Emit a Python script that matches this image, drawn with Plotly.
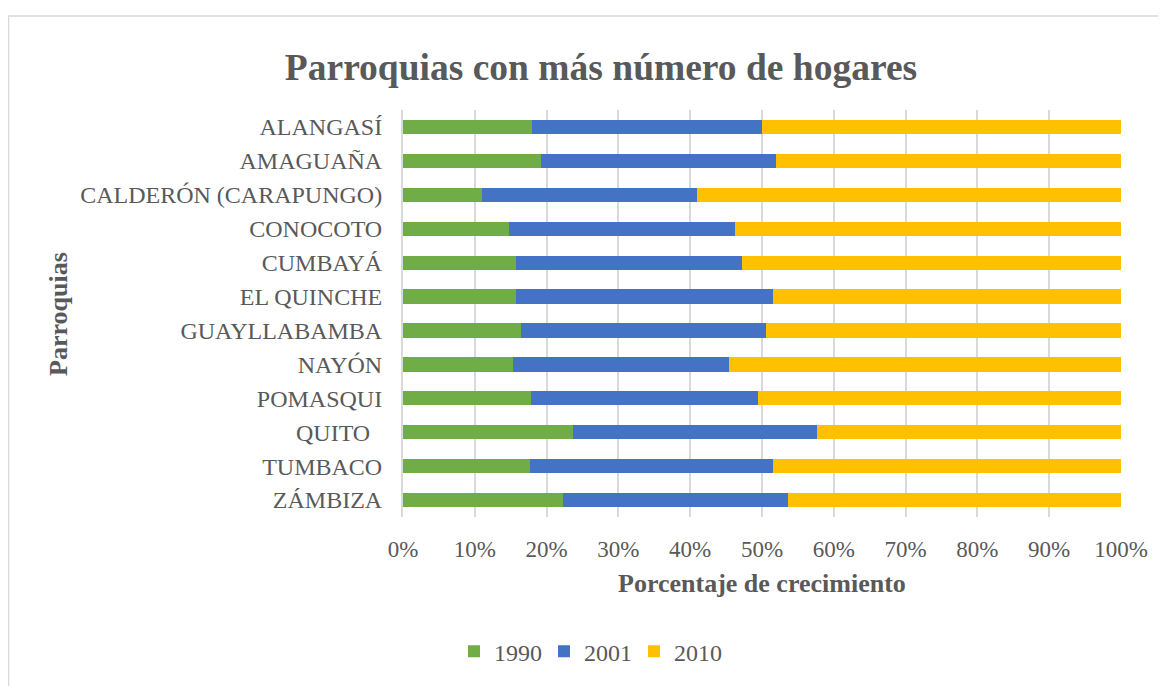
import plotly.graph_objects as go

categories = ["ALANGASÍ", "AMAGUAÑA", "CALDERÓN (CARAPUNGO)", "CONOCOTO", "CUMBAYÁ",
              "EL QUINCHE", "GUAYLLABAMBA", "NAYÓN", "POMASQUI", "QUITO\u00a0\u00a0",
              "TUMBACO", "ZÁMBIZA"]
# percentages
p1990 = [18.0, 19.2, 11.0, 14.8, 15.8, 15.8, 16.5, 15.3, 17.8, 23.7, 17.7, 22.3]
p2001 = [32.0, 32.7, 30.0, 31.5, 31.4, 35.8, 34.1, 30.1, 31.6, 34.0, 33.8, 31.3]
p2010 = [50.0, 48.1, 59.0, 53.7, 52.8, 48.4, 49.4, 54.6, 50.6, 42.3, 48.5, 46.4]
series = [("1990", p1990, "#70AD47"), ("2001", p2001, "#4472C4"), ("2010", p2010, "#FFC000")]
x_ticks = [0, 10, 20, 30, 40, 50, 60, 70, 80, 90, 100]
x_tick_labels = [f"{v}%" for v in x_ticks]

FONT = "Liberation Serif"
GREY = "#595959"

fig = go.Figure()
for name, vals, color in series:
    fig.add_trace(go.Bar(
        y=categories, x=vals, name=name, orientation="h",
        marker=dict(color=color, line=dict(width=0)),
    ))

OFF = 8  # page body margin
W, H = 1166 - OFF, 686 - OFF
L, R, T, B = 403 - OFF, 1121 - OFF, 110 - OFF, 521 - OFF
pw, ph = R - L, B - T

def px_x(x):
    return (x - OFF - L) / pw

def px_y(y):
    return (B - (y - OFF)) / ph

fig.update_layout(
    width=W, height=H,
    barmode="stack", barnorm="percent",
    bargap=0.58,
    margin=dict(l=L, r=W - R, t=T, b=H - B),
    paper_bgcolor="white", plot_bgcolor="white",
    font=dict(family=FONT, color=GREY, size=24),
    title=dict(text="<b>Parroquias con más número de hogares</b>",
               x=(601 - OFF) / W, xref="container", xanchor="center",
               y=(H - (67 - OFF)) / H, yref="container", yanchor="middle",
               font=dict(size=37.5, color=GREY, family=FONT)),
    showlegend=True,
    legend=dict(orientation="h", x=px_x(589), xanchor="center",
                y=px_y(657), yanchor="middle",
                font=dict(size=24, color=GREY, family=FONT),
                traceorder="normal", itemwidth=30, itemsizing="constant",
                entrywidth=45, entrywidthmode="pixels"),
    xaxis=dict(range=[0, 100], tickvals=x_ticks, ticktext=x_tick_labels,
               showgrid=True, gridcolor="#D9D9D9", gridwidth=2,
               zeroline=False, showline=False, ticks="",
               ticklabelstandoff=16,
               tickfont=dict(size=23, color=GREY, family=FONT)),
    yaxis=dict(autorange="reversed", showgrid=False, zeroline=False,
               showline=True, linecolor="#D9D9D9", linewidth=2,
               ticks="", ticklabelstandoff=14,
               tickfont=dict(size=24, color=GREY, family=FONT)),
    shapes=[dict(type="rect", xref="paper", yref="paper",
                 x0=px_x(8.5), x1=px_x(1180), y0=px_y(700), y1=px_y(15),
                 line=dict(color="#D9D9D9", width=1.5), fillcolor="rgba(0,0,0,0)",
                 layer="below")],
    annotations=[
        dict(text="<b>Porcentaje de crecimiento</b>", xref="paper", yref="paper",
             x=0.5, y=px_y(588), xanchor="center", yanchor="middle", showarrow=False,
             font=dict(size=26, color=GREY, family=FONT)),
        dict(text="<b>Parroquias</b>", xref="paper", yref="paper",
             x=px_x(59), y=px_y(316), xanchor="center", yanchor="middle",
             showarrow=False, textangle=-90,
             font=dict(size=26, color=GREY, family=FONT)),
    ],
)

fig.write_html("out.html")
